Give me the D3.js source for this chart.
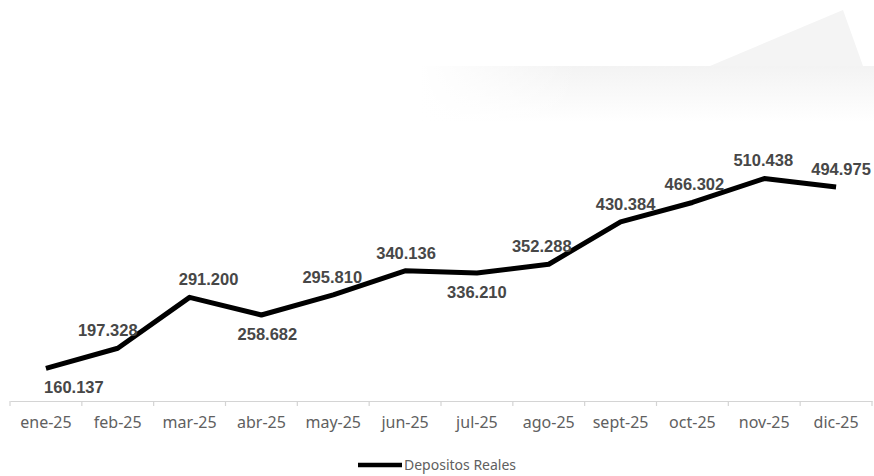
<!doctype html>
<html lang="es">
  <head>
    <meta charset="utf-8">
    <title>Depositos Reales 2025</title>
    <style>
      body { margin: 0; background: #fff; }
      svg { display: block; }
    </style>
  </head>
  <body>
    <div id="chart"></div>
    <script src="https://cdn.jsdelivr.net/npm/d3@7/dist/d3.min.js"></script>
    <script>
      // data
      var months = ["ene-25", "feb-25", "mar-25", "abr-25", "may-25", "jun-25",
                    "jul-25", "ago-25", "sept-25", "oct-25", "nov-25", "dic-25"];
      var depositos = [160.137, 197.328, 291.200, 258.682, 295.810, 340.136,
                       336.210, 352.288, 430.384, 466.302, 510.438, 494.975];
      var seriesName = "Depositos Reales";

      // where each data label sits (layout only)
      var labelSide = ["below", "above", "above", "below", "above", "above",
                       "below", "above", "above", "above", "above", "above"];
      var labelShift = [28, -10, 19, 6, -1, 1, 0, -7, 5, 2, -1, 5];

      var W = 874, H = 476;
      var svg = d3.select("#chart").append("svg")
        .attr("width", W)
        .attr("height", H);

      // faint grey smudge at the top of the screenshot
      var defs = svg.append("defs");
      var g1 = defs.append("linearGradient").attr("id", "fadeV")
        .attr("x1", 0).attr("y1", 0).attr("x2", 0).attr("y2", 1);
      g1.append("stop").attr("offset", "0%").attr("stop-color", "#f3f3f3");
      g1.append("stop").attr("offset", "100%").attr("stop-color", "#ffffff");
      var g2 = defs.append("linearGradient").attr("id", "fadeH")
        .attr("x1", 0).attr("y1", 0).attr("x2", 1).attr("y2", 0);
      g2.append("stop").attr("offset", "0%").attr("stop-color", "#fff").attr("stop-opacity", 1);
      g2.append("stop").attr("offset", "35%").attr("stop-color", "#fff").attr("stop-opacity", 0);
      g2.append("stop").attr("offset", "100%").attr("stop-color", "#fff").attr("stop-opacity", 0);

      svg.append("rect")
        .attr("x", 420).attr("y", 66).attr("width", 454).attr("height", 56)
        .attr("fill", "url(#fadeV)");
      svg.append("rect")
        .attr("x", 420).attr("y", 66).attr("width", 454).attr("height", 56)
        .attr("fill", "url(#fadeH)");
      svg.append("path")
        .attr("d", "M710,66 L843,10 L863,66 Z")
        .attr("fill", "#f4f4f4");

      var x = d3.scaleBand()
        .domain(months)
        .range([10, 872])
        .padding(0);

      var y = d3.scaleLinear()
        .domain([100, 600])
        .range([401, 130]);

      // category axis
      var xAxis = svg.append("g")
        .attr("transform", "translate(0,401)")
        .call(d3.axisBottom(x).tickSize(0).tickPadding(0));
      xAxis.select(".domain").attr("stroke", "#d4d4d4").attr("stroke-width", 1.2);
      xAxis.selectAll("text")
        .attr("dy", "0.71em")
        .attr("y", 16)
        .attr("fill", "#606060")
        .style("font-family", "Noto Sans, sans-serif")
        .style("font-size", "16px");

      // tick marks between categories
      var edges = months.map(function(m){ return x(m); }).concat([x.range()[1]]);
      svg.append("g").selectAll("line")
        .data(edges)
        .enter()
        .append("line")
        .attr("x1", function(d){ return d; })
        .attr("x2", function(d){ return d; })
        .attr("y1", 401)
        .attr("y2", 406)
        .attr("stroke", "#d4d4d4")
        .attr("stroke-width", 1.2);

      var cx = function(d, i){ return x(months[i]) + x.bandwidth() / 2; };

      var line = d3.line()
        .x(function(d, i){ return cx(d, i); })
        .y(function(d){ return y(d); });

      svg.append("path")
        .datum(depositos)
        .attr("d", line)
        .attr("fill", "none")
        .attr("stroke", "#000")
        .attr("stroke-width", 5)
        .attr("stroke-linejoin", "round")
        .attr("stroke-linecap", "butt");

      var fmt = function(v){ return d3.format(".3f")(v); };

      svg.append("g").selectAll("text")
        .data(depositos)
        .enter()
        .append("text")
        .attr("x", function(d, i){ return cx(d, i) + labelShift[i]; })
        .attr("y", function(d, i){ return labelSide[i] === "above" ? y(d) - 18 : y(d) + 19; })
        .attr("dy", "0.35em")
        .attr("text-anchor", "middle")
        .attr("fill", "#474747")
        .style("font-family", "Liberation Sans, Arial, sans-serif")
        .style("font-weight", "bold")
        .style("font-size", "16.5px")
        .text(fmt);

      // legend
      var legend = svg.append("g");
      legend.append("line")
        .attr("x1", 358).attr("x2", 402)
        .attr("y1", 465).attr("y2", 465)
        .attr("stroke", "#000")
        .attr("stroke-width", 4.5);
      legend.append("text")
        .attr("x", 404)
        .attr("y", 465)
        .attr("dy", "0.35em")
        .attr("fill", "#606060")
        .style("font-family", "Noto Sans, sans-serif")
        .style("font-size", "14px")
        .text(seriesName);
    </script>
  </body>
</html>
